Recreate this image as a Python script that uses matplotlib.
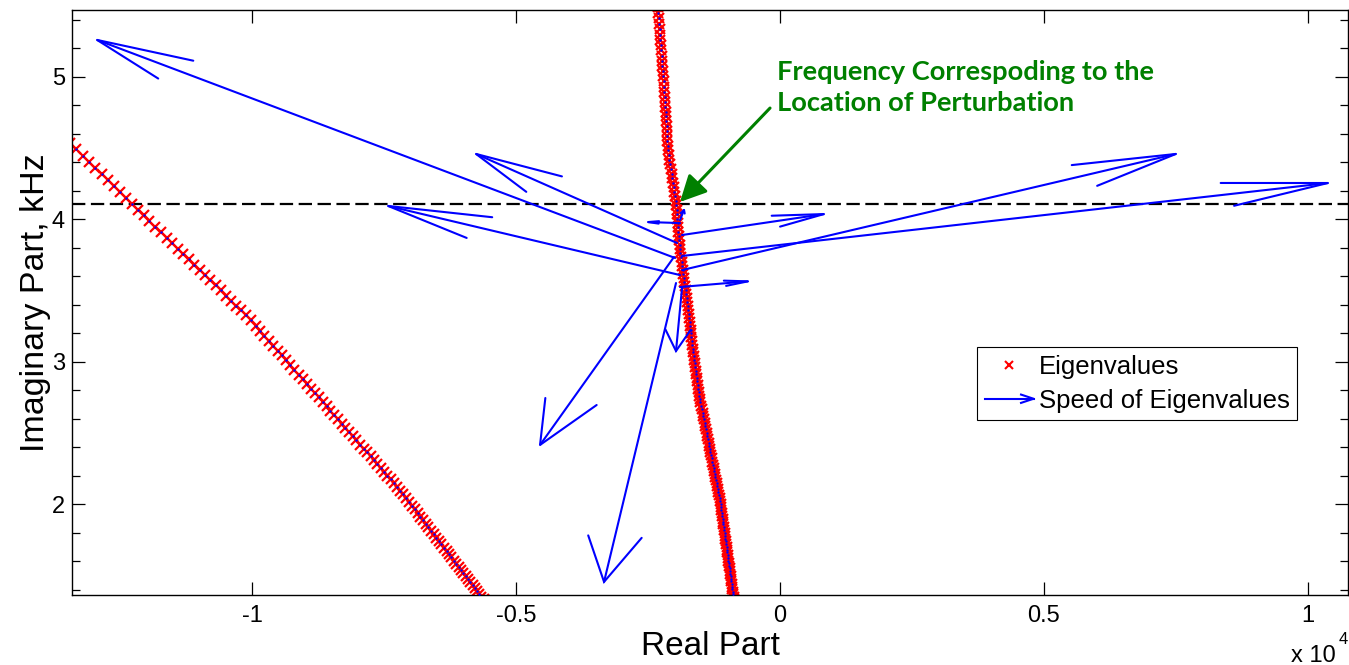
import numpy as np
import matplotlib
matplotlib.use("Agg")
import matplotlib.pyplot as plt
from matplotlib.lines import Line2D
from matplotlib.legend_handler import HandlerBase
from matplotlib.ticker import FixedLocator, MultipleLocator, NullLocator

plt.rcParams['font.family'] = ['Liberation Sans', 'DejaVu Sans']

# Eigenvalue locus of the first (strongly damped) mode family: real part [1/s], imaginary part [kHz]
locus1_re = [-13447, -13325, -13205, -13085, -12967, -12849, -12733, -12617, -12503, -12389,
             -12276, -12164, -12053, -11943, -11833, -11725, -11617, -11511, -11405, -11300,
             -11196, -11093, -10991, -10890, -10789, -10690, -10591, -10493, -10396, -10299,
             -10204, -10109, -10020, -9934, -9849, -9765, -9681, -9598, -9516, -9435,
             -9355, -9275, -9196, -9117, -9040, -8963, -8886, -8811, -8736, -8662,
             -8588, -8515, -8443, -8371, -8300, -8230, -8161, -8092, -8023, -7955,
             -7888, -7822, -7756, -7690, -7626, -7561, -7498, -7435, -7372, -7311,
             -7249, -7189, -7134, -7079, -7025, -6971, -6917, -6865, -6812, -6761,
             -6709, -6659, -6608, -6559, -6509, -6460, -6412, -6364, -6316, -6270,
             -6223, -6177, -6131, -6086, -6041, -5997, -5953, -5909, -5866, -5823,
             -5781, -5739, -5697, -5656, -5616]
locus1_im = [4.535, 4.490, 4.447, 4.403, 4.360, 4.317, 4.275, 4.232, 4.191, 4.149,
             4.108, 4.068, 4.028, 3.988, 3.948, 3.909, 3.870, 3.832, 3.794, 3.756,
             3.718, 3.681, 3.644, 3.608, 3.571, 3.535, 3.500, 3.464, 3.429, 3.394,
             3.360, 3.326, 3.290, 3.254, 3.218, 3.182, 3.147, 3.112, 3.078, 3.044,
             3.010, 2.976, 2.942, 2.909, 2.877, 2.844, 2.812, 2.780, 2.749, 2.717,
             2.686, 2.656, 2.625, 2.595, 2.565, 2.535, 2.506, 2.477, 2.448, 2.419,
             2.391, 2.363, 2.335, 2.308, 2.280, 2.253, 2.227, 2.200, 2.174, 2.148,
             2.122, 2.096, 2.069, 2.042, 2.016, 1.990, 1.964, 1.938, 1.913, 1.888,
             1.863, 1.838, 1.814, 1.790, 1.766, 1.742, 1.719, 1.695, 1.672, 1.650,
             1.627, 1.605, 1.582, 1.560, 1.539, 1.517, 1.496, 1.475, 1.454, 1.433,
             1.413, 1.392, 1.372, 1.352, 1.332]

# Eigenvalue locus of the second (lightly damped) mode family
locus2_re = [-2330, -2317, -2306, -2298, -2290, -2282, -2275, -2267, -2259, -2251,
             -2243, -2236, -2228, -2221, -2213, -2205, -2198, -2190, -2183, -2176,
             -2171, -2165, -2159, -2154, -2148, -2143, -2137, -2132, -2126, -2120,
             -2107, -2094, -2081, -2068, -2055, -2042, -2029, -2016, -2004, -1991,
             -1978, -1967, -1960, -1953, -1946, -1938, -1931, -1924, -1917, -1910,
             -1903, -1896, -1885, -1874, -1863, -1852, -1841, -1830, -1819, -1809,
             -1798, -1787, -1777, -1766, -1756, -1747, -1738, -1729, -1720, -1712,
             -1703, -1694, -1685, -1677, -1668, -1660, -1651, -1642, -1632, -1622,
             -1612, -1603, -1593, -1583, -1574, -1564, -1555, -1546, -1536, -1527,
             -1518, -1506, -1493, -1480, -1467, -1454, -1441, -1429, -1416, -1404,
             -1391, -1379, -1367, -1354, -1342, -1330, -1318, -1306, -1294, -1282,
             -1270, -1258, -1246, -1235, -1223, -1211, -1200, -1188, -1177, -1166,
             -1154, -1143, -1133, -1125, -1118, -1110, -1102, -1094, -1087, -1079,
             -1071, -1064, -1056, -1049, -1041, -1034, -1027, -1019, -1012, -1005,
             -998, -990, -983, -976, -969, -962, -955, -948, -941, -934,
             -927, -920, -914, -907, -900, -893, -887, -880, -873]
locus2_im = [5.524, 5.486, 5.448, 5.410, 5.372, 5.334, 5.296, 5.259, 5.222, 5.185,
             5.148, 5.112, 5.075, 5.039, 5.003, 4.967, 4.931, 4.896, 4.860, 4.825,
             4.790, 4.755, 4.721, 4.686, 4.652, 4.618, 4.584, 4.550, 4.516, 4.483,
             4.450, 4.417, 4.384, 4.352, 4.319, 4.287, 4.255, 4.223, 4.192, 4.160,
             4.129, 4.097, 4.066, 4.035, 4.004, 3.973, 3.942, 3.912, 3.881, 3.851,
             3.821, 3.791, 3.761, 3.732, 3.703, 3.673, 3.644, 3.615, 3.587, 3.558,
             3.530, 3.501, 3.473, 3.445, 3.417, 3.389, 3.362, 3.334, 3.307, 3.279,
             3.252, 3.225, 3.198, 3.172, 3.145, 3.119, 3.092, 3.066, 3.040, 3.014,
             2.989, 2.963, 2.937, 2.912, 2.887, 2.862, 2.837, 2.812, 2.787, 2.762,
             2.738, 2.714, 2.690, 2.666, 2.642, 2.618, 2.595, 2.571, 2.548, 2.525,
             2.502, 2.479, 2.456, 2.433, 2.410, 2.388, 2.366, 2.343, 2.321, 2.299,
             2.277, 2.255, 2.233, 2.212, 2.190, 2.169, 2.147, 2.126, 2.105, 2.084,
             2.063, 2.042, 2.021, 2.001, 1.980, 1.959, 1.939, 1.918, 1.898, 1.878,
             1.858, 1.838, 1.818, 1.798, 1.778, 1.759, 1.739, 1.720, 1.700, 1.681,
             1.662, 1.643, 1.624, 1.605, 1.586, 1.568, 1.549, 1.531, 1.512, 1.494,
             1.476, 1.458, 1.440, 1.422, 1.404, 1.386, 1.369, 1.351, 1.333]

# Speed vectors: tail at the eigenvalue, head at eigenvalue + speed
arrow_re0 = [-1989, -1951, -1894, -1856, -1856, -1856, -1894, -2008, -1970, -1856, -1894, -1894]
arrow_im0 = [3.728, 3.833, 3.608, 3.643, 3.742, 3.889, 3.524, 3.735, 3.552, 3.517, 3.973, 3.994]
arrow_re1 = [-12936, -5758, -7424, 7500, 10379, 833, -606, -4545, -3333, -1970, -2500, -1818]
arrow_im1 = [5.258, 4.458, 4.093, 4.458, 4.254, 4.036, 3.564, 2.416, 1.455, 3.075, 3.980, 4.065]

perturbation_freq = 4.107
note_tip = (-1894, 4.121)
note_tail = (-189, 4.780)
note_text_pos = (-57, 5.114)

x_ticks = [-10000, -5000, 0, 5000, 10000]
x_tick_labels = ['-1', '-0.5', '0', '0.5', '1']
y_ticks = [2, 3, 4, 5]
y_tick_labels = ['2', '3', '4', '5']

BLUE = (0, 0, 1)
GREEN = '#008000'

W, H = 1349, 665
fig = plt.figure(figsize=(W / 100, H / 100), dpi=100)
ax = fig.add_axes([72 / W, 70 / H, 1276 / W, 585 / H])
ax.set_xlim(-13410, 10758)
ax.set_ylim(1.363, 5.468)

ax.axhline(perturbation_freq, color='black', lw=1.6, dashes=(6, 2.5), zorder=1)

for re, im in ((locus1_re, locus1_im), (locus2_re, locus2_im)):
    ax.plot(re, im, ls='none', marker='x', color='red', ms=7.5, mew=1.6, zorder=2)
    ax.plot(re, im, ls='none', marker='.', color=BLUE, ms=1.5, zorder=3)

# Arrow heads are built in screen space so their shape does not depend on the axis scaling
SQUEEZE = 0.438
HEAD_MAX = 47.0
HEAD_FRAC = 0.35
HEAD_ANG = np.radians(14.5)
T = ax.transData
Tinv = T.inverted()
for x0, y0, x1, y1 in zip(arrow_re0, arrow_im0, arrow_re1, arrow_im1):
    p_tail = T.transform((x0, y0))
    p_head = T.transform((x1, y1))
    d = (p_tail - p_head) * np.array([SQUEEZE, 1.0])
    L = np.hypot(*d)
    h = min(HEAD_MAX, HEAD_FRAC * L)
    u = d / L
    barbs = []
    for sg in (1, -1):
        a = sg * HEAD_ANG
        r = np.array([u[0] * np.cos(a) - u[1] * np.sin(a), u[0] * np.sin(a) + u[1] * np.cos(a)]) * h
        barbs.append(Tinv.transform(p_head + r / np.array([SQUEEZE, 1.0])))
    ax.plot([x0, x1], [y0, y1], color=BLUE, lw=1.5, zorder=4, solid_capstyle='round')
    ax.plot([barbs[0][0], x1, barbs[1][0]], [barbs[0][1], y1, barbs[1][1]],
            color=BLUE, lw=1.5, zorder=4, solid_capstyle='round', solid_joinstyle='miter')

ax.annotate('', xy=note_tip, xytext=note_tail,
            arrowprops=dict(arrowstyle='-|>,head_length=0.8,head_width=0.4', color=GREEN,
                            lw=2.2, mutation_scale=20, shrinkA=0, shrinkB=0), zorder=6)
ax.text(*note_text_pos, 'Frequency Correspoding to the\nLocation of Perturbation', color=GREEN,
        fontweight='bold', fontsize=19.6, family=['Lato', 'DejaVu Sans'], va='top', ha='left',
        linespacing=1.35, zorder=6)

ax.xaxis.set_major_locator(FixedLocator(x_ticks))
ax.set_xticklabels(x_tick_labels)
ax.yaxis.set_major_locator(FixedLocator(y_ticks))
ax.set_yticklabels(y_tick_labels)
ax.yaxis.set_minor_locator(MultipleLocator(0.2))
ax.xaxis.set_minor_locator(NullLocator())
ax.tick_params(which='both', direction='in', top=True, right=True, width=0.9, labelsize=17)
ax.tick_params(which='major', length=9.4)
ax.tick_params(which='minor', length=5.8)
ax.tick_params(axis='x', pad=7)
ax.tick_params(axis='y', pad=5)
for sp in ax.spines.values():
    sp.set_linewidth(1.0)

ax.set_xlabel('Real Part', fontsize=24, labelpad=3)
ax.set_ylabel('Imaginary Part, kHz', fontsize=24.5, labelpad=1)
fig.text(1291 / W, 3 / H, 'x 10', fontsize=17, ha='left', va='baseline')
fig.text(1339 / W, 21 / H, '4', fontsize=12, ha='left', va='baseline')


class SpeedKey:
    pass


class SpeedHandler(HandlerBase):
    def create_artists(self, legend, orig_handle, xdescent, ydescent, width, height, fontsize, trans):
        y = height / 2 - ydescent
        x0, x1 = -xdescent, width - xdescent
        shaft = Line2D([x0, x1], [y, y], color=BLUE, lw=1.5)
        head = Line2D([x1 - 9, x1, x1 - 9], [y + 3, y, y - 3], color=BLUE, lw=1.5)
        for a in (shaft, head):
            a.set_transform(trans)
        return [shaft, head]


handles = [Line2D([], [], ls='none', marker='x', color='red', ms=6, mew=1.5), SpeedKey()]
leg = ax.legend(handles, ['Eigenvalues', 'Speed of Eigenvalues'], handler_map={SpeedKey: SpeedHandler()},
                loc='upper left', bbox_to_anchor=(977 / W, 1 - 347 / H), bbox_transform=fig.transFigure,
                fontsize=18.5, fancybox=False, edgecolor='black', framealpha=1, borderpad=0.3,
                labelspacing=0.39, handlelength=1.9, handletextpad=0.2, borderaxespad=0, numpoints=1)
leg.get_frame().set_linewidth(0.8)

fig.savefig('out.png', dpi=100)
